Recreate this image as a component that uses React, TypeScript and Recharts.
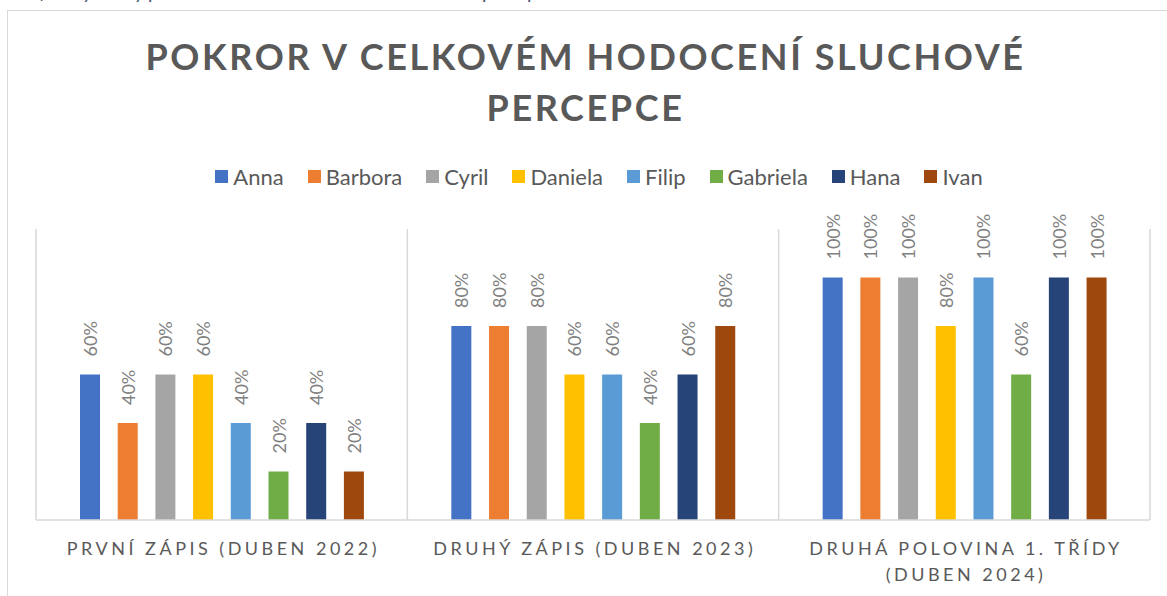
import { BarChart, Bar, XAxis, YAxis, CartesianGrid, LabelList } from "recharts";

const categories = [
  "PRVNÍ ZÁPIS (DUBEN 2022)",
  "DRUHÝ ZÁPIS (DUBEN 2023)",
  "DRUHÁ POLOVINA 1. TŘÍDY (DUBEN 2024)",
];

const names = ["Anna", "Barbora", "Cyril", "Daniela", "Filip", "Gabriela", "Hana", "Ivan"];
const colors = ["#4472C4", "#ED7D31", "#A5A5A5", "#FFC000", "#5B9BD5", "#70AD47", "#264478", "#9E480E"];

const anna = [0.6, 0.8, 1.0];
const barbora = [0.4, 0.8, 1.0];
const cyril = [0.6, 0.8, 1.0];
const daniela = [0.6, 0.6, 0.8];
const filip = [0.4, 0.6, 1.0];
const gabriela = [0.2, 0.4, 0.6];
const hana = [0.4, 0.6, 1.0];
const ivan = [0.2, 0.8, 1.0];

const seriesValues = [anna, barbora, cyril, daniela, filip, gabriela, hana, ivan];

const data = categories.map((cat, i) => {
  const row: Record<string, string | number> = { cat, sep: i };
  names.forEach((n, k) => {
    row[n] = seriesValues[k][i];
  });
  return row;
});

const FONT = "Lato, 'DejaVu Sans', sans-serif";
const GRID = "#d9d9d9";

// split long category names the way Excel wraps them
function wrap(label: string, max: number): string[] {
  const words = label.split(" ");
  const lines: string[] = [];
  let cur = "";
  for (const w of words) {
    if (cur && (cur + " " + w).length > max) {
      lines.push(cur);
      cur = w;
    } else {
      cur = cur ? cur + " " + w : w;
    }
  }
  if (cur) lines.push(cur);
  return lines;
}

const CatTick = (props: any) => {
  const { x, y, payload } = props;
  const lines = wrap(String(payload.value), 26);
  return (
    <text x={x} y={y} textAnchor="middle" fill="#595959" fontSize={18} fontFamily={FONT} style={{ letterSpacing: "3.5px" }}>
      {lines.map((l, i) => (
        <tspan key={i} x={x + 1.75} dy={i === 0 ? 27 : 26}>
          {l}
        </tspan>
      ))}
    </text>
  );
};

const PctLabel = (props: any) => {
  const { x, y, width, value } = props;
  const cx = x + width / 2;
  const ty = y - 18;
  return (
    <text
      x={cx}
      y={ty}
      transform={`rotate(-90 ${cx} ${ty})`}
      textAnchor="start"
      dominantBaseline="central"
      fill="#808080"
      fontSize={18}
      fontFamily={FONT}
    >
      {`${Math.round(value * 100)}%`}
    </text>
  );
};

export default function App() {
  return (
    <div style={{ position: "absolute", left: 0, top: 0, width: 1167, height: 596, overflow: "hidden", background: "#fff", fontFamily: FONT }}>
      <div style={{ position: "absolute", left: 10, top: -21, fontSize: 20, fontStyle: "italic", color: "#44546A", whiteSpace: "nowrap" }}>
        Graf 7: Výsledky pokroku v celkovém hodnocení sluchové percepce
      </div>
      <div style={{ position: "absolute", left: 7, top: 10, width: 1200, height: 700, border: "1px solid #d9d9d9" }} />
      <div style={{ position: "absolute", left: 0, top: 31, width: 1167, textAlign: "center", color: "#595959", fontWeight: 700, fontSize: 36, letterSpacing: "2.6px", lineHeight: "51px", paddingLeft: 4, boxSizing: "border-box" }}>
        POKROR V CELKOVÉM HODOCENÍ SLUCHOVÉ
        <br />
        PERCEPCE
      </div>
      <div style={{ position: "absolute", left: 0, top: 163, width: 1167, display: "flex", justifyContent: "center", paddingLeft: 55, boxSizing: "border-box" }}>
        {names.map((n, i) => (
          <div key={n} style={{ display: "flex", alignItems: "center", marginRight: 24, fontSize: 22, color: "#595959", lineHeight: "27px" }}>
            <span style={{ display: "inline-block", width: 13, height: 13, background: colors[i], marginRight: 5 }} />
            {n}
          </div>
        ))}
      </div>
      <div style={{ position: "absolute", left: 0, top: 0 }}>
        <BarChart width={1167} height={596} data={data} margin={{ top: 229, right: 17, bottom: 16, left: 36 }} barSize={20} barGap={17.7}>
          <CartesianGrid xAxisId="sep" vertical horizontal={false} stroke={GRID} strokeWidth={1.5} />
          <XAxis xAxisId="sep" dataKey="sep" type="number" domain={[0, 3]} ticks={[0, 1, 2, 3]} hide />
          <XAxis
            dataKey="cat"
            height={60}
            interval={0}
            tickLine={false}
            axisLine={{ stroke: GRID, strokeWidth: 1.5 }}
            tick={<CatTick />}
          />
          <YAxis hide domain={[0, 1.2]} />
          {names.map((n, i) => (
            <Bar key={n} dataKey={n} fill={colors[i]} isAnimationActive={false}>
              <LabelList dataKey={n} content={<PctLabel />} />
            </Bar>
          ))}
        </BarChart>
      </div>
    </div>
  );
}
